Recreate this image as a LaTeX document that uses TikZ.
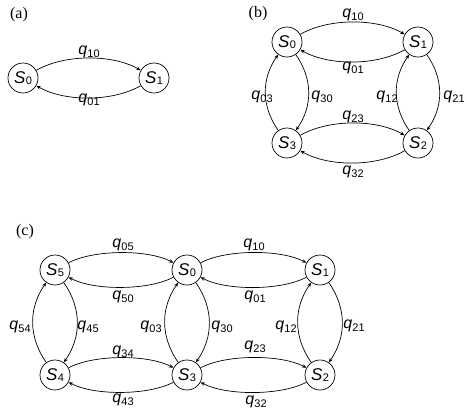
\documentclass[tikz,border=0pt]{standalone}
\usepackage{fontspec}
\setmainfont{Liberation Sans}
\newfontfamily\tagfont{Liberation Serif}
\usetikzlibrary{arrows.meta}
\newcommand{\qlab}[1]{\textit{q}\kern0.2pt\raisebox{-3pt}{\fontsize{11}{12}\selectfont #1}}
\newcommand{\stlab}[1]{\textit{S}\kern0.3pt\raisebox{-0.5pt}{\fontsize{11}{12}\selectfont #1}}
\begin{document}
\begin{tikzpicture}[x=1pt,y=1pt,
  state/.style={circle,draw,line width=0.7pt,minimum size=30pt,inner sep=0pt,font=\fontsize{17}{18}\selectfont},
  lbl/.style={inner sep=0pt,font=\fontsize{16}{18}\selectfont},
  tag/.style={inner sep=0pt,font=\tagfont\fontsize{16}{18}\selectfont},
  arc/.style={line width=0.7pt,-{Stealth[length=4.5pt,width=3.5pt]}},
  hwide/.style={bend left=30,looseness=0.8},
  hnarrow/.style={bend left=28,looseness=0.7},
  vert/.style={bend left=35}]
\useasboundingbox (0,0) rectangle (467,-413);
% (a)
\node[tag] (ta) at (19,-15) {(a)};
\node[state] (a0) at (23,-78) {\stlab{0}};
\node[state] (a1) at (154,-78) {\stlab{1}};
\draw[arc] (a0) to[hwide] (a1);
\draw[arc] (a1) to[hwide] (a0);
\node[lbl] (la10) at (89,-52) {\qlab{10}};
\node[lbl] (la01) at (89,-100) {\qlab{01}};
% (b)
\node[tag] (tb) at (258,-14) {(b)};
\node[state] (b0) at (287,-42) {\stlab{0}};
\node[state] (b1) at (418,-42) {\stlab{1}};
\node[state] (b2) at (418,-143) {\stlab{2}};
\node[state] (b3) at (287,-143) {\stlab{3}};
\draw[arc] (b0) to[hwide] (b1);
\draw[arc] (b1) to[hwide] (b0);
\draw[arc] (b3) to[hwide] (b2);
\draw[arc] (b2) to[hwide] (b3);
\draw[arc] (b3) to[vert] (b0);
\draw[arc] (b0) to[vert] (b3);
\draw[arc] (b2) to[vert] (b1);
\draw[arc] (b1) to[vert] (b2);
\node[lbl] (lb10) at (353,-15) {\qlab{10}};
\node[lbl] (lb01) at (353,-68) {\qlab{01}};
\node[lbl] (lb03) at (262,-97) {\qlab{03}};
\node[lbl] (lb30) at (322,-97) {\qlab{30}};
\node[lbl] (lb12) at (387,-97) {\qlab{12}};
\node[lbl] (lb21) at (454,-97) {\qlab{21}};
\node[lbl] (lb23) at (353,-117) {\qlab{23}};
\node[lbl] (lb32) at (353,-172) {\qlab{32}};
% (c)
\node[tag] (tc) at (25,-232) {(c)};
\node[state] (c5) at (55,-270) {\stlab{5}};
\node[state] (c0) at (187,-270) {\stlab{0}};
\node[state] (c1) at (320,-270) {\stlab{1}};
\node[state] (c4) at (55,-375) {\stlab{4}};
\node[state] (c3) at (187,-375) {\stlab{3}};
\node[state] (c2) at (320,-375) {\stlab{2}};
\draw[arc] (c5) to[hnarrow] (c0);
\draw[arc] (c0) to[hnarrow] (c5);
\draw[arc] (c0) to[hnarrow] (c1);
\draw[arc] (c1) to[hnarrow] (c0);
\draw[arc] (c4) to[hnarrow] (c3);
\draw[arc] (c3) to[hnarrow] (c4);
\draw[arc] (c3) to[hnarrow] (c2);
\draw[arc] (c2) to[hnarrow] (c3);
\draw[arc] (c4) to[vert] (c5);
\draw[arc] (c5) to[vert] (c4);
\draw[arc] (c3) to[vert] (c0);
\draw[arc] (c0) to[vert] (c3);
\draw[arc] (c2) to[vert] (c1);
\draw[arc] (c1) to[vert] (c2);
\node[lbl] (lc05) at (123,-245) {\qlab{05}};
\node[lbl] (lc50) at (123,-297) {\qlab{50}};
\node[lbl] (lc54) at (20,-327) {\qlab{54}};
\node[lbl] (lc45) at (88,-327) {\qlab{45}};
\node[lbl] (lc03) at (151,-327) {\qlab{03}};
\node[lbl] (lc30) at (222,-327) {\qlab{30}};
\node[lbl] (lc34) at (123,-352) {\qlab{34}};
\node[lbl] (lc43) at (123,-400) {\qlab{43}};
\node[lbl] (lc10) at (254,-245) {\qlab{10}};
\node[lbl] (lc01) at (255,-297) {\qlab{01}};
\node[lbl] (lc12) at (286,-327) {\qlab{12}};
\node[lbl] (lc21) at (354,-326) {\qlab{21}};
\node[lbl] (lc23) at (255,-347) {\qlab{23}};
\node[lbl] (lc32) at (256,-402) {\qlab{32}};
\end{tikzpicture}
\end{document}
